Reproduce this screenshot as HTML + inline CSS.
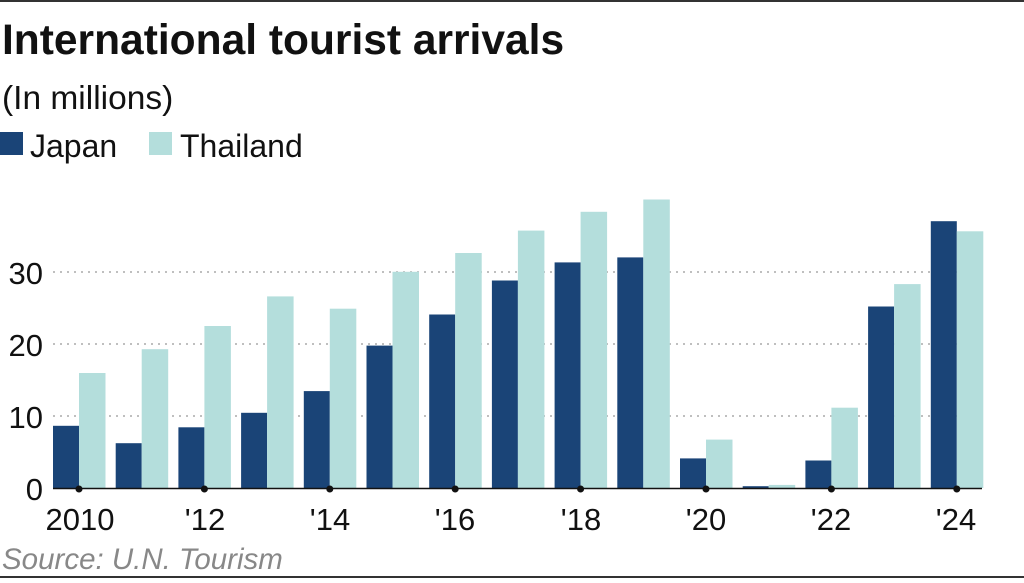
<!DOCTYPE html><html><head><style>
body{margin:0;width:1024px;height:578px;background:#fff;overflow:hidden;font-family:"Liberation Sans",Arial,sans-serif}
</style></head><body>
<svg width="1024" height="578" xmlns="http://www.w3.org/2000/svg" font-family="Liberation Sans, Arial, sans-serif">
<rect x="0" y="0" width="1024" height="2" fill="#333"/>
<rect x="0" y="576" width="1024" height="2" fill="#333"/>
<text x="2" y="54" font-size="42.5" font-weight="bold" fill="#111">International tourist arrivals</text>
<text x="2" y="109" font-size="33.5" fill="#111">(In millions)</text>
<rect x="0" y="132" width="23" height="23" fill="#1a4477"/>
<text x="30" y="157" font-size="32" fill="#111">Japan</text>
<rect x="149" y="132" width="23" height="23" fill="#b4dedc"/>
<text x="180" y="157" font-size="32" fill="#111">Thailand</text>
<g stroke="#aaa" stroke-width="1.5" stroke-dasharray="2,5">
<line x1="53" y1="272" x2="982" y2="272"/><line x1="53" y1="344" x2="982" y2="344"/><line x1="53" y1="416" x2="982" y2="416"/></g>
<g font-size="31" fill="#111" text-anchor="end">
<text x="43" y="284">30</text><text x="43" y="356">20</text><text x="43" y="428">10</text><text x="43" y="500">0</text></g>
<g fill="#1a4477">
<rect x="53" y="425.8" width="26" height="62.2"/>
<rect x="115.7" y="443.2" width="26" height="44.8"/>
<rect x="178.4" y="427.3" width="26" height="60.7"/>
<rect x="241.1" y="412.8" width="26" height="75.2"/>
<rect x="303.8" y="391.1" width="26" height="96.9"/>
<rect x="366.5" y="345.6" width="26" height="142.4"/>
<rect x="429.2" y="314.5" width="26" height="173.5"/>
<rect x="491.9" y="280.5" width="26" height="207.5"/>
<rect x="554.6" y="262.4" width="26" height="225.6"/>
<rect x="617.3" y="257.4" width="26" height="230.6"/>
<rect x="680" y="458.4" width="26" height="29.6"/>
<rect x="742.7" y="486.2" width="26" height="1.8"/>
<rect x="805.4" y="460.5" width="26" height="27.5"/>
<rect x="868.1" y="306.5" width="26" height="181.5"/>
<rect x="930.8" y="221.2" width="26" height="266.8"/>
</g>
<g fill="#b4dedc">
<rect x="79" y="373" width="26.5" height="115"/>
<rect x="141.7" y="349.2" width="26.5" height="138.8"/>
<rect x="204.4" y="326" width="26.5" height="162"/>
<rect x="267.1" y="296.4" width="26.5" height="191.6"/>
<rect x="329.8" y="308.7" width="26.5" height="179.3"/>
<rect x="392.5" y="271.8" width="26.5" height="216.2"/>
<rect x="455.2" y="253" width="26.5" height="235"/>
<rect x="517.9" y="230.6" width="26.5" height="257.4"/>
<rect x="580.6" y="211.8" width="26.5" height="276.2"/>
<rect x="643.3" y="199.5" width="26.5" height="288.5"/>
<rect x="706" y="439.6" width="26.5" height="48.4"/>
<rect x="768.7" y="484.9" width="26.5" height="3.1"/>
<rect x="831.4" y="407.7" width="26.5" height="80.3"/>
<rect x="894.1" y="284.1" width="26.5" height="203.9"/>
<rect x="956.8" y="231.3" width="26.5" height="256.7"/>
</g>
<line x1="53" y1="488.5" x2="982" y2="488.5" stroke="#111" stroke-width="1.5"/>
<g fill="#111">
<circle cx="79" cy="489" r="3.5"/><circle cx="204.4" cy="489" r="3.5"/><circle cx="329.8" cy="489" r="3.5"/><circle cx="455.2" cy="489" r="3.5"/><circle cx="580.6" cy="489" r="3.5"/><circle cx="706" cy="489" r="3.5"/><circle cx="831.4" cy="489" r="3.5"/><circle cx="956.8" cy="489" r="3.5"/>
</g>
<g font-size="31" fill="#111" text-anchor="middle">
<text x="80" y="530">2010</text><text x="205" y="530">'12</text><text x="330" y="530">'14</text><text x="455" y="530">'16</text><text x="581" y="530">'18</text><text x="706" y="530">'20</text><text x="831" y="530">'22</text><text x="956" y="530">'24</text></g>
<text x="2" y="569" font-size="29.5" font-style="italic" fill="#888">Source: U.N. Tourism</text>
</svg></body></html>
